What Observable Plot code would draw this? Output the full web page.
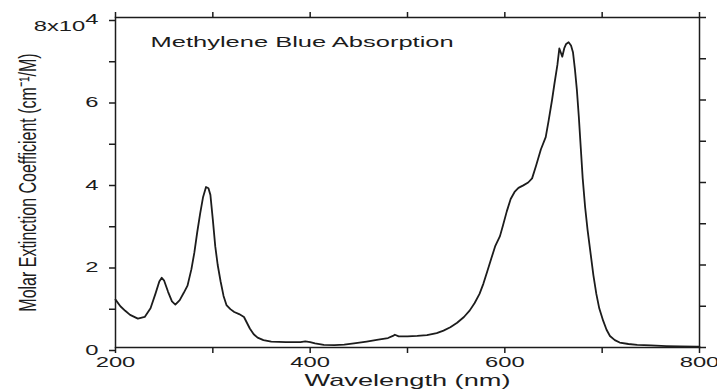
<!DOCTYPE html>
<html>
<head>
<meta charset="utf-8">
<script src="https://cdn.jsdelivr.net/npm/d3@7"></script>
<script src="https://cdn.jsdelivr.net/npm/@observablehq/plot@0.6"></script>
<style>
  html, body { margin: 0; padding: 0; background: #fff; }
  #chart { width: 717px; height: 390px; overflow: hidden; }
</style>
</head>
<body>
<div id="chart"></div>
<script>
// Methylene blue absorption spectrum: wavelength (nm) and molar extinction coefficient (cm^-1/M)
const wavelength = [
  200, 205, 210, 215, 223, 230, 236, 241, 245, 247.5, 250, 254, 258, 261.5, 266, 270, 274, 278,
  281, 284, 287, 290, 293, 295.5, 297.5, 300, 302.5, 305, 308, 311, 314, 318, 322, 327, 332, 335,
  338, 342, 346, 352, 360, 375, 390, 395, 400, 405, 414, 425, 435, 445, 458, 470, 480, 485, 487,
  491, 500, 510, 520, 530, 537, 544, 551, 558, 564, 569, 574, 578, 582, 586, 590, 595, 598, 602,
  606, 610, 614, 619, 624, 628, 632, 637, 642, 645, 648.5, 651, 654, 656, 657.5, 659, 661, 663,
  665.5, 668, 670, 672, 674, 676, 678, 680, 682.5, 685, 688, 691, 694, 697, 701, 704.5, 708, 713,
  718, 727, 736, 750, 766, 780, 797, 800
];
const extinction = [
  11600, 10000, 8900, 7900, 7000, 7400, 9500, 13000, 16000, 16900, 16200, 13500, 11200, 10400, 11500, 13200, 15000, 19000,
  23000, 28000, 32500, 36500, 38900, 38600, 37000, 31000, 24500, 20000, 16000, 12500, 10300, 9300, 8600, 8100, 7400, 6000,
  4600, 3200, 2400, 1800, 1400, 1300, 1300, 1500, 1300, 1000, 650, 600, 700, 1000, 1450, 1900, 2300, 2800, 3100,
  2700, 2700, 2800, 3000, 3500, 4100, 4900, 6000, 7400, 9000, 10800, 13000, 15500, 18500, 21500, 24500, 27000, 29500, 33000,
  36000, 37700, 38700, 39300, 40000, 41000, 44000, 48000, 51000, 55000, 60000, 64000, 68500, 72500, 71500, 70500, 72500, 73600,
  74000, 73200, 71600, 67500, 62500, 56000, 48500, 41000, 34000, 28500, 23000, 17500, 13000, 9500, 6500, 4300, 2800, 1800,
  1200, 850, 650, 500, 350, 250, 200, 200
];

// Axis ticks and labels
const xTicks = [200, 300, 400, 500, 600, 700, 800];
const xTickLabels = ["200", "", "400", "", "600", "", "800"];
const yTicks = [0, 10000, 20000, 30000, 40000, 50000, 60000, 70000, 80000];
const yTickLabels = ["0", "", "2", "", "4", "", "6", "", "8x10⁴"];

const title = "Methylene Blue Absorption";
const xLabel = "Wavelength (nm)";
const yLabel = "Molar Extinction Coefficient (cm⁻¹/M)";

const spectrum = wavelength.map((w, i) => ({wavelength: w, extinction: extinction[i]}));
const ink = "#1c1c1c";

const chart = Plot.plot({
  width: 717,
  height: 390,
  marginLeft: 115,
  marginRight: 18,
  marginTop: 17,
  marginBottom: 43,
  x: {domain: [200, 800]},
  y: {domain: [0, 80000]},
  style: {fontFamily: "'Liberation Sans', Arial, sans-serif", fontSize: "14px", color: ink, background: "#fff"},
  marks: [
    Plot.frame({stroke: ink, strokeWidth: 1.5}),
    Plot.axisX(xTicks, {anchor: "bottom", tickSize: 6, tickPadding: 4, strokeWidth: 1.5, label: null,
      tickFormat: (d) => xTickLabels[xTicks.indexOf(d)]}),
    Plot.axisX(xTicks, {anchor: "top", tickSize: 6, strokeWidth: 1.5, label: null, tickFormat: () => ""}),
    Plot.axisY(yTicks, {anchor: "left", tickSize: 6, tickPadding: 11, strokeWidth: 1.5, label: null, dy: 3,
      tickFormat: (d) => yTickLabels[yTicks.indexOf(d)]}),
    Plot.axisY(yTicks, {anchor: "right", tickSize: 6, strokeWidth: 1.5, label: null, tickFormat: () => ""}),
    Plot.lineY(spectrum, {x: "wavelength", y: "extinction", stroke: ink, strokeWidth: 1.8}),
    Plot.text([title], {frameAnchor: "top-left", dx: 35, dy: 19, lineAnchor: "top", textAnchor: "start", fontSize: 15}),
    Plot.text([xLabel], {frameAnchor: "bottom", dy: 27, lineAnchor: "top", textAnchor: "middle", fontSize: 16}),
    Plot.text([yLabel], {frameAnchor: "left", dx: -80, rotate: -90, lineAnchor: "bottom", textAnchor: "middle", fontSize: 16})
  ]
});

// Widen the lettering horizontally (vertical label: widen across the line)
chart.querySelectorAll("text").forEach((t) => {
  const tr = t.getAttribute("transform") || "";
  const scale = /rotate\(/.test(tr) ? " scale(1,1.55)" : " scale(1.7,1)";
  if (/translate\(/.test(tr)) {
    t.setAttribute("transform", tr + scale);
  } else if (t.getAttribute("x") !== null) {
    const x = +t.getAttribute("x"), y = +(t.getAttribute("y") || 0);
    t.setAttribute("transform", `translate(${x},${y})${scale} translate(${-x},${-y})`);
  }
  // Full-size raised exponent on the top y tick label
  if (t.textContent === "8x10⁴") {
    t.textContent = "";
    const ns = "http://www.w3.org/2000/svg";
    const base = document.createElementNS(ns, "tspan");
    base.setAttribute("dy", "0.4em");
    base.textContent = "8x10";
    const exp = document.createElementNS(ns, "tspan");
    exp.setAttribute("dy", "-0.45em");
    exp.textContent = "4";
    t.appendChild(base);
    t.appendChild(exp);
  }
});

document.getElementById("chart").appendChild(chart);
</script>
</body>
</html>
